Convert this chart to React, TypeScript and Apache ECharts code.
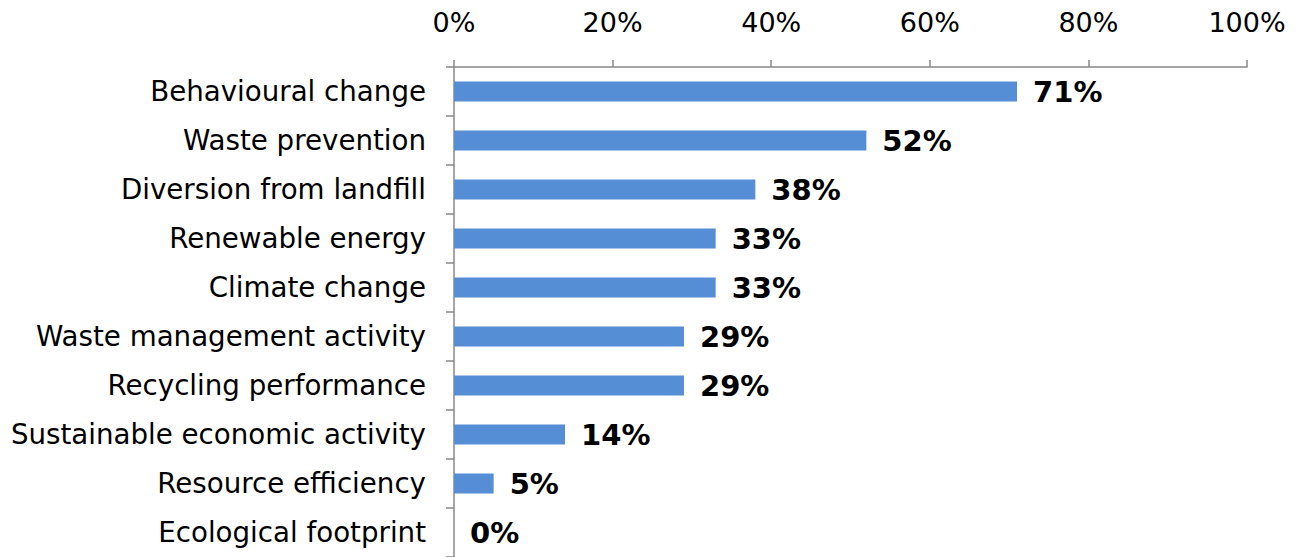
import React, { useEffect, useRef } from "react";
import * as echarts from "echarts";

const categories = [
  "Behavioural change",
  "Waste prevention",
  "Diversion from landfill",
  "Renewable energy",
  "Climate change",
  "Waste management activity",
  "Recycling performance",
  "Sustainable economic activity",
  "Resource efficiency",
  "Ecological footprint",
];
const values = [71, 52, 38, 33, 33, 29, 29, 14, 5, 0];
const xTicks = [0, 20, 40, 60, 80, 100];

export default function App() {
  const ref = useRef<HTMLDivElement>(null);
  useEffect(() => {
    if (!ref.current) return;
    const chart = echarts.init(ref.current, null, { renderer: "svg" });
    const font = "'DejaVu Sans', Verdana, sans-serif";
    chart.setOption({
      animation: false,
      textStyle: { fontFamily: font },
      grid: { left: 454, right: 52, top: 67, bottom: 0, containLabel: false },
      xAxis: {
        type: "value",
        position: "top",
        min: xTicks[0],
        max: xTicks[xTicks.length - 1],
        interval: 20,
        axisLine: { show: true, lineStyle: { color: "#888888", width: 1.5 } },
        axisTick: { show: true, length: 7, lineStyle: { color: "#888888", width: 1.5 } },
        splitLine: { show: false },
        axisLabel: {
          formatter: "{value}%",
          fontSize: 27,
          color: "#000",
          margin: 31,
          fontFamily: font,
        },
      },
      yAxis: {
        type: "category",
        data: categories,
        inverse: true,
        axisLine: { show: true, lineStyle: { color: "#888888", width: 1.5 } },
        axisTick: { show: true, length: 8, lineStyle: { color: "#888888", width: 1.5 } },
        axisLabel: { fontSize: 27.7, color: "#000", margin: 28, fontFamily: font },
      },
      series: [
        {
          type: "bar",
          data: values,
          barWidth: 20,
          itemStyle: { color: "#558ED5" },
          label: {
            show: true,
            position: "right",
            distance: 16,
            formatter: "{c}%",
            fontSize: 29,
            fontWeight: "bold",
            color: "#000",
            fontFamily: font,
          },
        },
      ],
    });
    return () => chart.dispose();
  }, []);
  return (
    <div
      ref={ref}
      style={{ position: "absolute", left: 0, top: 0, width: 1299, height: 557 }}
    />
  );
}
